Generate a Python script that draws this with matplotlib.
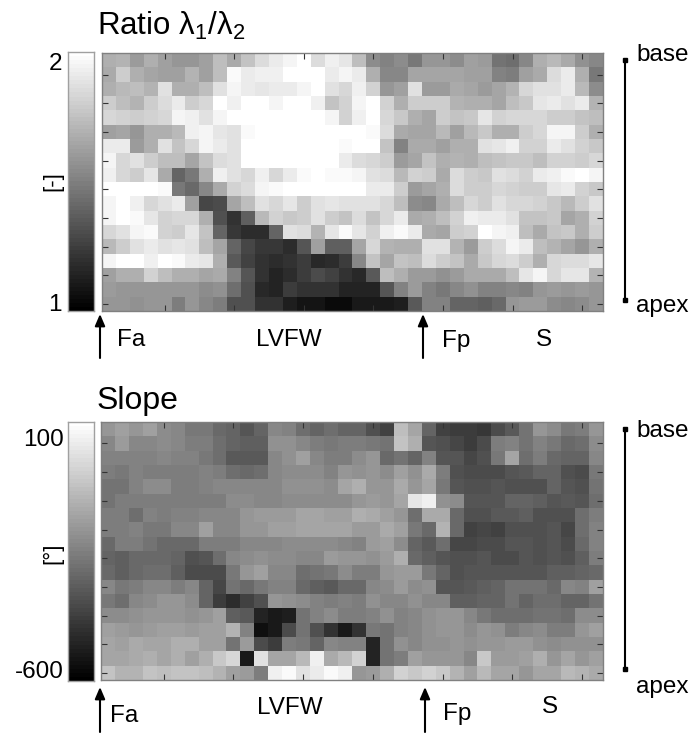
import matplotlib.pyplot as plt
import numpy as np

plt.rcParams["font.family"] = ["Liberation Sans", "DejaVu Sans"]
plt.rcParams["mathtext.fontset"] = "custom"
plt.rcParams["mathtext.rm"] = "Liberation Sans"

# grey levels, rows base -> apex, 0=black 255=white
ratio_levels = [
    [175,180,155,175,160,150,150,160,190,170,195,220,235,245,255,220,240,230,190,140,130,140,120,150,150,140,160,155,115,110,135,175,185,170,145,135],
    [170,205,175,165,160,160,180,160,190,250,235,240,240,255,255,255,235,245,235,175,135,135,165,165,165,165,160,160,130,125,160,170,220,235,175,120],
    [175,185,190,180,225,175,175,190,225,245,235,230,235,235,245,255,225,215,240,210,150,160,225,155,155,170,165,155,165,180,215,225,225,235,185,140],
    [205,190,180,205,220,235,205,215,255,240,255,255,245,255,255,240,195,210,245,255,210,175,205,205,205,180,175,175,165,190,200,230,235,225,235,180],
    [215,210,205,210,215,245,240,225,245,255,255,255,255,255,255,255,245,210,240,255,215,200,175,165,205,195,200,230,210,215,215,215,205,205,195,190],
    [160,165,150,175,175,185,240,245,230,225,250,255,255,255,255,255,255,255,255,250,220,170,165,165,185,160,185,200,175,175,205,215,245,245,205,175],
    [235,235,155,175,225,195,215,245,235,225,255,255,255,255,255,255,255,250,255,255,195,130,170,170,160,175,175,225,230,240,210,210,235,225,210,200],
    [245,215,225,205,190,190,165,195,220,225,255,255,255,255,255,255,255,235,220,215,205,155,165,195,175,180,175,190,195,200,200,190,210,210,205,215],
    [240,215,205,230,170,100,120,175,240,225,215,240,215,235,250,255,250,250,245,225,220,185,210,205,170,220,205,200,225,220,210,235,240,250,255,245],
    [255,255,255,255,250,120,105,135,170,210,220,245,250,255,255,255,255,255,255,235,235,205,155,165,175,220,205,205,215,210,205,205,230,235,210,200],
    [245,255,240,215,225,235,160,70,75,165,190,225,215,230,205,225,230,225,225,225,215,190,140,135,170,190,215,205,225,215,215,210,200,185,205,225],
    [245,255,250,230,210,215,215,175,80,50,95,185,210,200,205,225,205,195,220,195,215,235,170,175,190,210,240,235,235,225,195,195,200,165,175,210],
    [215,225,245,250,210,205,230,195,100,55,45,45,100,225,220,180,230,250,230,210,240,250,235,170,165,205,210,255,245,240,190,170,195,200,175,205],
    [185,205,225,235,225,230,225,190,165,100,70,55,55,45,85,160,95,95,165,215,180,175,175,225,225,180,155,205,220,245,235,190,180,165,150,175],
    [245,255,255,240,255,250,235,230,175,90,65,50,45,50,60,40,45,60,135,195,165,195,190,220,205,195,170,200,215,220,205,175,215,220,220,230],
    [160,175,175,210,190,175,175,165,170,130,85,50,35,45,60,75,65,50,40,90,190,175,155,155,145,155,170,170,170,190,230,245,215,230,230,180],
    [155,150,150,150,150,150,150,140,145,110,80,40,35,60,50,50,50,35,35,35,85,130,155,130,120,135,145,130,130,135,130,150,155,150,155,150],
    [150,150,145,150,150,125,150,135,125,80,80,50,50,30,20,20,10,10,25,25,25,30,90,130,130,100,100,95,105,150,155,155,140,135,140,150],
]
slope_levels = [
    [150,160,150,160,140,135,120,120,105,100,85,100,135,130,110,100,110,100,100,80,65,190,165,100,65,60,60,55,75,90,115,150,140,120,125,150],
    [135,155,135,135,140,135,125,125,110,100,95,95,145,145,135,125,120,125,125,120,115,195,175,85,80,70,60,75,125,130,115,130,120,105,110,140],
    [130,130,130,130,135,130,130,120,110,90,90,90,135,145,160,135,125,125,140,150,105,115,100,130,85,85,70,80,120,165,110,125,105,100,100,135],
    [125,120,130,125,125,125,125,130,125,110,105,110,135,140,140,140,130,150,145,150,140,160,145,170,125,80,75,75,75,85,90,100,100,80,75,120],
    [115,115,130,140,140,125,125,130,135,135,135,135,135,145,145,145,140,165,175,150,150,170,150,165,120,85,80,80,85,80,80,80,100,85,80,115],
    [115,125,125,125,125,125,125,125,125,140,140,135,135,140,140,140,140,140,150,155,150,165,230,240,145,140,85,85,85,100,100,95,85,90,85,110],
    [125,125,110,130,125,130,130,135,135,135,150,155,155,155,165,165,160,160,175,170,160,150,110,170,170,105,80,80,90,90,95,80,80,80,110,125],
    [125,125,130,120,120,135,135,160,135,135,150,150,160,160,165,165,165,165,155,155,170,160,120,105,180,105,65,70,65,80,80,80,85,70,110,130],
    [105,125,125,115,105,105,105,125,125,125,135,135,135,140,140,140,140,135,130,155,160,140,100,90,110,70,70,75,75,85,85,80,85,75,105,130],
    [100,95,105,105,105,100,80,85,110,135,140,145,140,140,135,135,155,150,150,145,155,175,105,95,85,80,80,85,75,75,85,80,85,80,95,125],
    [105,95,105,110,110,95,75,75,75,120,150,160,135,135,110,115,120,140,125,125,150,155,155,120,100,80,85,85,85,85,85,85,95,95,100,105],
    [135,120,125,135,135,125,135,100,70,115,105,120,130,130,105,95,90,105,105,135,140,155,140,145,85,85,90,95,100,115,115,115,105,135,130,160],
    [120,110,135,140,150,150,140,100,60,45,65,80,150,145,140,130,125,130,125,145,135,135,145,135,135,95,95,100,100,115,100,110,110,100,100,115],
    [140,140,145,150,150,150,145,150,160,95,90,35,25,30,115,130,140,125,125,130,145,130,135,145,150,150,135,120,110,110,110,115,115,110,140,140],
    [160,155,150,155,160,160,155,160,160,180,130,15,25,75,115,80,50,25,50,120,115,130,135,145,150,150,140,150,145,125,135,140,125,125,150,160],
    [165,160,170,165,165,175,175,160,160,115,155,75,60,125,120,100,135,130,130,35,115,145,135,145,145,150,145,150,150,155,155,145,140,145,145,145],
    [165,165,170,175,165,175,160,175,200,215,25,225,165,165,185,240,170,185,210,35,115,125,160,150,150,150,135,200,155,155,160,175,150,165,150,160],
    [195,180,180,195,190,195,195,190,180,160,155,125,240,250,225,235,250,240,150,155,175,210,200,210,200,180,160,185,165,165,150,165,165,185,180,170],
]
region_labels = ["Fa", "LVFW", "Fp", "S"]

ratio = 1 + np.array(ratio_levels) / 255
slope = -600 + 700 * np.array(slope_levels) / 255
W, H = 696, 733
frame = "#808080"


def px_axes(x0, y0, x1, y1):
    return fig.add_axes([x0 / W, 1 - y1 / H, (x1 - x0) / W, (y1 - y0) / H])


def heat(box, data, vmin, vmax):
    ax = px_axes(*box)
    ax.imshow(data, cmap="gray", vmin=vmin, vmax=vmax, aspect="auto", interpolation="nearest")
    ax.set_xticks(np.arange(4, 36, 5))
    ax.set_yticks(np.arange(1, 18, 2))
    ax.tick_params(direction="in", top=True, right=True, length=4, width=0.8, color="#333333",
                   labelbottom=False, labelleft=False)
    for s in ax.spines.values():
        s.set_color(frame)
        s.set_linewidth(1)


def bar(box, vmin, vmax):
    ax = px_axes(*box)
    grad = np.linspace(vmax, vmin, 64).reshape(-1, 1)
    ax.imshow(grad, cmap="gray", vmin=vmin, vmax=vmax, aspect="auto", interpolation="nearest")
    ax.set_xticks([])
    ax.set_yticks([])
    for s in ax.spines.values():
        s.set_color("#a0a0a0")
        s.set_linewidth(1)


fig = plt.figure(figsize=(W / 100, H / 100), dpi=100)

heat((102, 53, 603, 311), ratio, 1, 2)
bar((68, 52, 94, 311), 1, 2)
heat((101, 422, 603, 680), slope, -600, 100)
bar((68, 422, 94, 681), -600, 100)

# overlay in picture pixels for labels and arrows
ov = fig.add_axes([0, 0, 1, 1])
ov.set_xlim(0, W)
ov.set_ylim(H, 0)
ov.axis("off")
fs = 17.5


def label(x, y, s, ha="left", **kw):
    ov.text(x, y, s, ha=ha, va="center", fontsize=kw.pop("fontsize", fs), **kw)


def arrow(x, y0, y1):
    ov.annotate("", xy=(x, y1), xytext=(x, y0),
                arrowprops=dict(arrowstyle="-|>,head_width=0.3,head_length=0.7", color="black", lw=1.5,
                                shrinkA=0, shrinkB=0))


def span(x, y0, y1):
    ov.plot([x, x], [y0, y1], color="black", lw=1.5)
    ov.plot([x, x], [y0, y1], color="black", ls="", marker="s", ms=3.5)


label(97, 26, r"Ratio $\mathrm{\lambda_1/\lambda_2}$", fontsize=22.5)
label(97, 401, "Slope", fontsize=23)

label(62, 64, "2", ha="right")
label(62, 305, "1", ha="right")
label(64, 440, "100", ha="right")
label(64, 672, "-600", ha="right")
label(53, 181, "[-]", ha="center", rotation=90, fontsize=16)
label(53, 553, "[°]", ha="center", rotation=90, fontsize=16)

arrow(100, 358, 314)
arrow(423, 358, 314)
arrow(100, 732, 687)
arrow(425, 732, 687)

label(117, 340, region_labels[0])
label(289, 340, region_labels[1], ha="center")
label(442, 341, region_labels[2])
label(544, 340, region_labels[3], ha="center")
label(110, 716, region_labels[0])
label(290, 708, region_labels[1], ha="center")
label(443, 714, region_labels[2])
label(550, 707, region_labels[3], ha="center")

span(625, 60, 300)
span(625, 429, 669)
label(636, 55, "base")
label(636, 306, "apex")
label(636, 431, "base")
label(636, 687, "apex")

fig.savefig("out.png", dpi=100)
